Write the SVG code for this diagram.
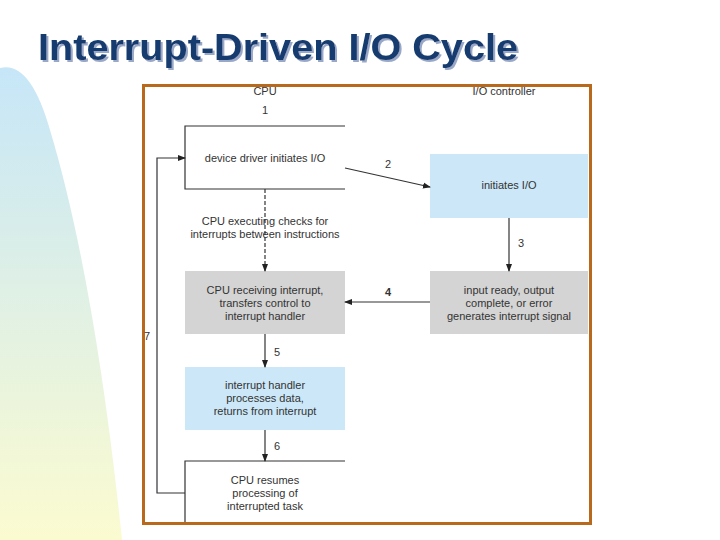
<svg xmlns="http://www.w3.org/2000/svg" width="720" height="540" viewBox="0 0 720 540">
<defs>
<linearGradient id="bg" x1="0" y1="0" x2="0" y2="1"><stop offset="0" stop-color="#c6e6f8"/><stop offset="1" stop-color="#fbfbd0"/></linearGradient>
<filter id="sh" x="-5%" y="-20%" width="110%" height="150%"><feDropShadow dx="2" dy="2" stdDeviation="0.5" flood-color="#9aa8c8"/></filter>
<marker id="ah" markerWidth="8" markerHeight="8" refX="7" refY="4" orient="auto" markerUnits="userSpaceOnUse"><path d="M0,1 L8,4 L0,7 Z" fill="#222"/></marker>
<style>
.t{font-family:"Liberation Sans",Arial,sans-serif;font-size:11px;fill:#333;text-anchor:middle}
.c{stroke:#333;stroke-width:1.2;fill:none}
</style>
</defs>
<path d="M0,68 Q30,60 50,130 Q95,280 122,540 L0,540 Z" fill="url(#bg)"/>
<text x="38" y="60" font-family="Liberation Sans,Arial,sans-serif" font-size="37" font-weight="bold" fill="#123a6e" textLength="480" lengthAdjust="spacingAndGlyphs" filter="url(#sh)">Interrupt-Driven I/O Cycle</text>
<rect x="143.5" y="85.5" width="447" height="438" fill="#fff" stroke="#b8691c" stroke-width="3"/>
<text class="t" x="265" y="95">CPU</text>
<text class="t" x="504" y="95">I/O controller</text>
<text class="t" x="265" y="114">1</text>
<g id="n1"><path class="c" d="M345,126 H185 V189 H345"/><text class="t" x="265" y="162">device driver initiates I/O</text></g>
<g id="n2"><rect x="430" y="154" width="158" height="64" fill="#cce8f8"/><text class="t" x="509" y="189">initiates I/O</text></g>
<g id="n3"><text class="t" x="265" y="225">CPU executing checks for</text><text class="t" x="265" y="238">interrupts between instructions</text></g>
<g id="n4"><rect x="185" y="271" width="160" height="63" fill="#d4d4d4"/><text class="t" x="265" y="294">CPU receiving interrupt,</text><text class="t" x="265" y="307">transfers control to</text><text class="t" x="265" y="320">interrupt handler</text></g>
<g id="n5"><rect x="430" y="271" width="158" height="63" fill="#d4d4d4"/><text class="t" x="509" y="294">input ready, output</text><text class="t" x="509" y="307">complete, or error</text><text class="t" x="509" y="320">generates interrupt signal</text></g>
<g id="n6"><rect x="185" y="367" width="160" height="63" fill="#cce8f8"/><text class="t" x="265" y="389">interrupt handler</text><text class="t" x="265" y="402">processes data,</text><text class="t" x="265" y="415">returns from interrupt</text></g>
<g id="n7"><path class="c" d="M345,461 H185 V522"/><text class="t" x="265" y="484">CPU resumes</text><text class="t" x="265" y="497">processing of</text><text class="t" x="265" y="510">interrupted task</text></g>
<g id="connectors">
<path class="c" d="M265,189 V271" stroke-dasharray="4,2" marker-end="url(#ah)"/>
<path class="c" d="M345,168 L430,187" marker-end="url(#ah)"/>
<path class="c" d="M509,218 V271" marker-end="url(#ah)"/>
<path class="c" d="M430,302 H345" marker-end="url(#ah)"/>
<path class="c" d="M265,334 V367" marker-end="url(#ah)"/>
<path class="c" d="M265,430 V461" marker-end="url(#ah)"/>
<path class="c" d="M185,493 H157 V158 H185" marker-end="url(#ah)"/>
<text class="t" x="388" y="168">2</text>
<text class="t" x="521" y="247">3</text>
<text class="t" x="388" y="296" font-weight="bold">4</text>
<text class="t" x="277" y="356">5</text>
<text class="t" x="277" y="450">6</text>
<text class="t" x="147" y="340">7</text>
</g>
</svg>
